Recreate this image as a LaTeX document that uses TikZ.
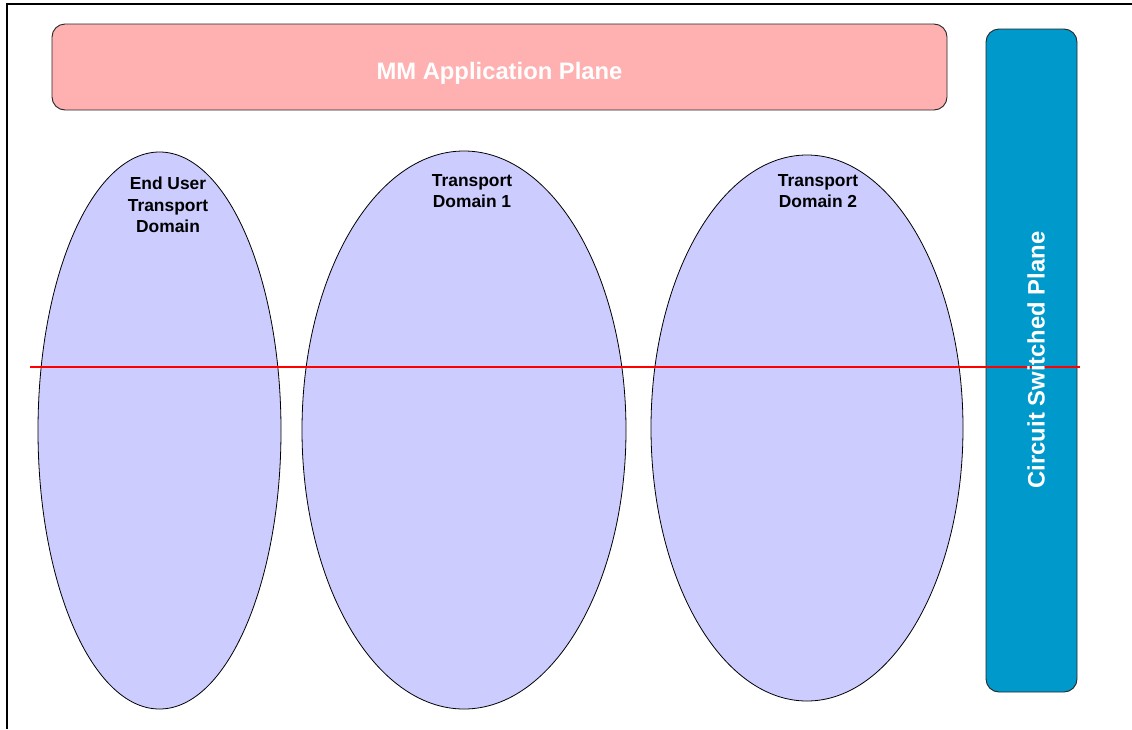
\documentclass[tikz,border=0pt]{standalone}
\usepackage{fontspec}
\setmainfont{Liberation Sans}
\usetikzlibrary{shapes.geometric}
\definecolor{pinkfill}{RGB}{255,176,176}
\definecolor{lavfill}{RGB}{204,204,255}
\definecolor{bluefill}{RGB}{0,153,204}
\tikzset{
  planebox/.style={draw=black!85, line width=0.9pt, rounded corners=13pt},
  domshape/.style={ellipse, draw=black, line width=0.8pt, fill=lavfill, inner sep=0pt},
  domlabel/.style={font=\fontsize{17.4}{21.5}\selectfont\bfseries, align=center, text=black},
  bigwhite/.style={font=\fontsize{23.8}{27}\selectfont\bfseries, text=white},
}
\begin{document}
\begin{tikzpicture}[x=1pt,y=-1pt]
\useasboundingbox (0,0) rectangle (1132,729);
% frame
\draw[line width=2pt] (1132,4) -- (7,4) -- (7,729);
% application plane
\draw[planebox, fill=pinkfill] (52,24) rectangle (947,110);
\node[bigwhite] (mm) at (499.5,73) {MM Application Plane};
% circuit switched plane
\draw[planebox, fill=bluefill] (986,29) rectangle (1077,692);
% domains
\node[domshape, minimum width=243pt, minimum height=557pt] (eu) at (159.5,430.5) {};
\node[domshape, minimum width=324pt, minimum height=558pt] (d1) at (464,430) {};
\node[domshape, minimum width=312pt, minimum height=546pt] (d2) at (807,428) {};
\node[domlabel] (eul) at (168,205) {End User\\Transport\\Domain};
\node[domlabel] (d1l) at (472,191) {Transport\\Domain 1};
\node[domlabel] (d2l) at (818,191) {Transport\\Domain 2};
% red line
\coordinate (rl) at (30,367);
\coordinate (rr) at (1080,367);
\draw[red, line width=1.3pt] (rl) -- (rr);
\node[bigwhite, rotate=90] (cs) at (1036,360) {Circuit Switched Plane};
\end{tikzpicture}
\end{document}
